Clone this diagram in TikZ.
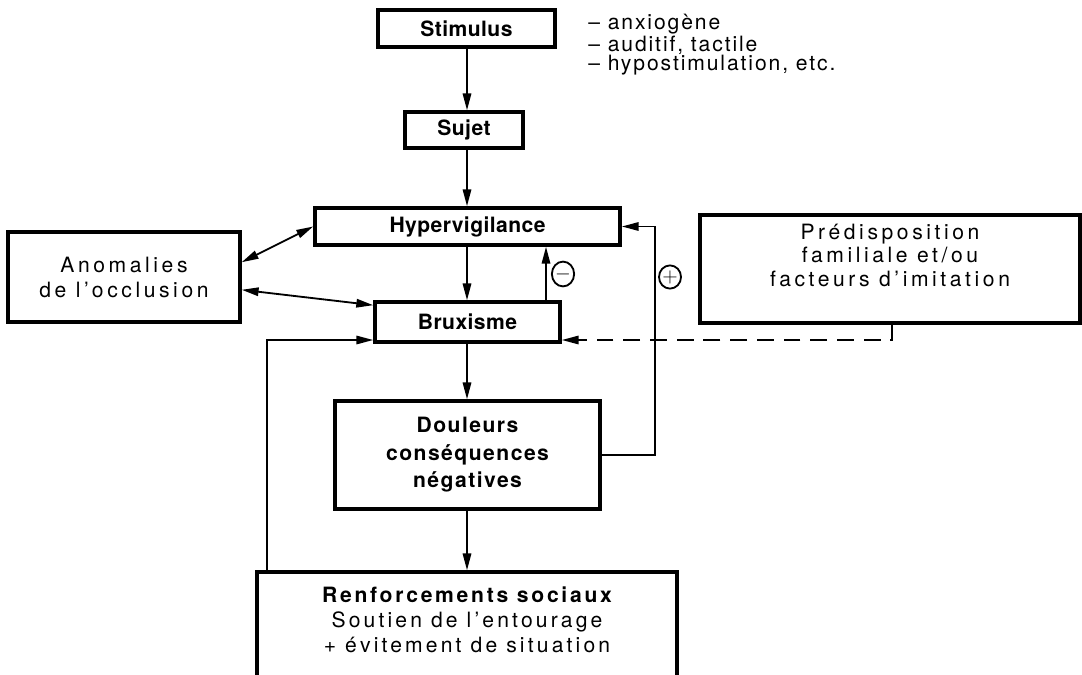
\documentclass[tikz,border=0pt]{standalone}
\usepackage{fontspec}
\setmainfont{TeX Gyre Heros}
\newfontfamily\tightsf[LetterSpace=2]{TeX Gyre Heros}
\newfontfamily\boldsf[LetterSpace=7]{TeX Gyre Heros}
\newfontfamily\renfsf[LetterSpace=13]{TeX Gyre Heros}
\newfontfamily\widesf[LetterSpace=15]{TeX Gyre Heros}
\newfontfamily\anomsf[LetterSpace=17]{TeX Gyre Heros}
\newfontfamily\predsf[LetterSpace=17]{TeX Gyre Heros}
\newfontfamily\listsf[LetterSpace=9]{TeX Gyre Heros}
\usetikzlibrary{positioning, arrows.meta, shapes.geometric}
\tikzset{
		>={Triangle[length=12pt,width=6pt]},
		box/.style={draw, line width=2.4pt, inner sep=0pt, align=center},
		flow/.style={line width=1.3pt, ->},
		sign/.style={draw, ellipse, line width=1.3pt, inner sep=0pt, font=\fontsize{15}{15}\selectfont},
		hd/.style={font=\tightsf\bfseries\fontsize{15}{17}\selectfont}
	}

\begin{document}
\begin{tikzpicture}[x=0.025cm, y=-0.025cm]
		\useasboundingbox (0,0) rectangle (1082,675);
		% main chain
		\node[box, hd, minimum width=4.43cm, minimum height=0.93cm] (stim) at (466.5,28.5) {Stimulus};
		\node[box, hd, minimum width=2.95cm, minimum height=0.9cm] (sujet) at (464,130) {Sujet};
		\node[box, hd, minimum width=7.63cm, minimum height=0.93cm] (hyper) at (467.5,226.5) {Hypervigilance};
		\node[box, hd, minimum width=4.63cm, minimum height=1.0cm] (brux) at (467.5,322) {Bruxisme};
		\node[box, minimum width=6.63cm, minimum height=2.7cm, font=\boldsf\bfseries\fontsize{15}{19.5}\selectfont] (doul) at (467.5,455)
			{Douleurs\\conséquences\\négatives};
		\node[box, minimum width=10.5cm, minimum height=2.7cm, text depth=9pt, font=\widesf\fontsize{15}{17.8}\selectfont] (renf) at (467,626)
			{{\renfsf\bfseries Renforcements sociaux}\\Soutien de l’entourage\\+ évitement de situation};
		% side boxes
		\node[box, minimum width=5.8cm, minimum height=2.25cm, font=\anomsf\fontsize{15}{17.8}\selectfont] (anom) at (124,277)
			{Anomalies\\de l’occlusion};
		\node[box, minimum width=9.5cm, minimum height=2.7cm, text depth=20pt, font=\predsf\fontsize{15}{16.7}\selectfont] (predis) at (890,269)
			{Prédisposition\\familiale et/ou\\facteurs d’imitation};
		\node[anchor=north west, align=left, inner sep=0pt, font=\listsf\fontsize{15}{13.8}\selectfont] (causes) at (588,14)
			{– anxiogène\\– auditif, tactile\\– hypostimulation, etc.};
		\node[sign, minimum width=0.5cm, minimum height=0.62cm] (minus) at (563,274) {$-$};
		\node[sign, minimum width=0.55cm, minimum height=0.58cm] (plus) at (670,277) {$+$};
		% connectors
		\coordinate (axis) at (467,0);
		\coordinate (mloop) at (546,0);
		\coordinate (lloop) at (267,0);
		\draw[flow] (stim.south -| axis) -- (sujet.north -| axis);
		\draw[flow] (sujet.south -| axis) -- (hyper.north -| axis);
		\draw[flow] (hyper.south -| axis) -- (brux.north -| axis);
		\draw[flow] (brux.south -| axis) -- (doul.north -| axis);
		\draw[flow] (doul.south -| axis) -- (renf.north -| axis);
		\draw[flow] (brux.north -| mloop) -- (hyper.south -| mloop);
		\draw[flow, <->] ([yshift=0.37cm]anom.east) -- (hyper.west);
		\draw[flow, <->] ([yshift=-0.32cm]anom.east) -- ([yshift=0.42cm]brux.west);
		\draw[flow] (renf.north -| lloop) |- ([yshift=-0.45cm]brux.west);
		\draw[flow] (doul.east) -- ++(53,0) |- (hyper.east);
		\draw[flow, dash pattern=on 12pt off 7pt] ([xshift=0.05cm]predis.south) |- ([yshift=-0.45cm]brux.east);
	\end{tikzpicture}
\end{document}
